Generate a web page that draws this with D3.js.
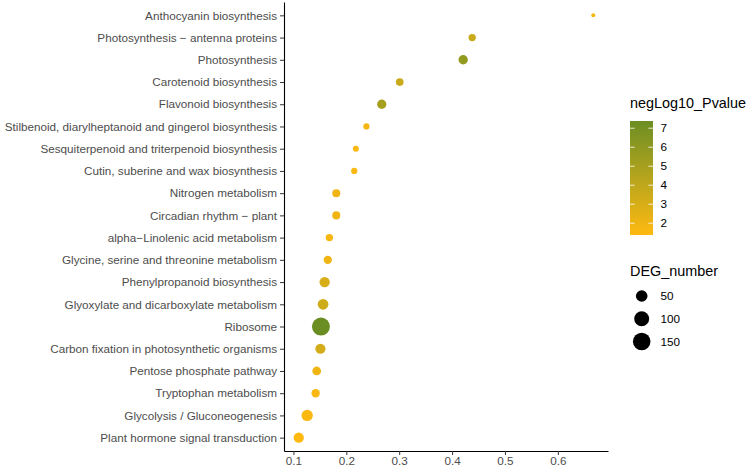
<!DOCTYPE html>
<html>
<head>
<meta charset="utf-8">
<script src="https://cdn.jsdelivr.net/npm/d3@7"></script>
<style>
  body { margin: 0; background: #fff; }
  svg { display: block; font-family: "Liberation Sans", Arial, sans-serif; }
</style>
</head>
<body>
<div id="chart"></div>
<script>
// KEGG enrichment bubble chart, pathways listed bottom -> top
var pathways = [
  "Plant hormone signal transduction",
  "Glycolysis / Gluconeogenesis",
  "Tryptophan metabolism",
  "Pentose phosphate pathway",
  "Carbon fixation in photosynthetic organisms",
  "Ribosome",
  "Glyoxylate and dicarboxylate metabolism",
  "Phenylpropanoid biosynthesis",
  "Glycine, serine and threonine metabolism",
  "alpha\u2212Linolenic acid metabolism",
  "Circadian rhythm \u2212 plant",
  "Nitrogen metabolism",
  "Cutin, suberine and wax biosynthesis",
  "Sesquiterpenoid and triterpenoid biosynthesis",
  "Stilbenoid, diarylheptanoid and gingerol biosynthesis",
  "Flavonoid biosynthesis",
  "Carotenoid biosynthesis",
  "Photosynthesis",
  "Photosynthesis \u2212 antenna proteins",
  "Anthocyanin biosynthesis"
];
var richFactor = [0.110, 0.126, 0.142, 0.144, 0.151, 0.152, 0.156, 0.159, 0.165, 0.168,
                  0.181, 0.181, 0.215, 0.218, 0.238, 0.267, 0.301, 0.421, 0.438, 0.667];
var degNumber  = [35, 46, 19, 22, 35, 160, 40, 36, 19, 13,
                  17, 17, 8, 7, 8, 26, 15, 27, 13, 4];
var negLog10P  = [1.38, 1.6, 1.6, 2.0, 3.2, 7.38, 3.4, 3.0, 2.0, 1.7,
                  2.0, 2.0, 1.6, 1.6, 1.8, 5.0, 3.6, 5.8, 3.6, 1.7];
var colorTicks = [2, 3, 4, 5, 6, 7];
var sizeBreaks = [50, 100, 150];
var xTicks = [0.1, 0.2, 0.3, 0.4, 0.5, 0.6];

var W = 748, H = 469;
var margin = {top: 2, right: 140, bottom: 18, left: 284};

var svg = d3.select("#chart").append("svg")
  .attr("width", W).attr("height", H);

// x scale, ggplot-like 5% expansion
var xr = d3.extent(richFactor);
var xpad = (xr[1] - xr[0]) * 0.05;
var x = d3.scaleLinear()
  .domain([xr[0] - xpad, xr[1] + xpad])
  .range([margin.left, W - margin.right]);

var y = d3.scalePoint()
  .domain(pathways.slice().reverse())
  .range([margin.top, H - margin.bottom])
  .padding(0.6);

var color = d3.scaleLinear()
  .domain(d3.extent(negLog10P))
  .range(["#FFB90F", "#6B8E23"])
  .interpolate(d3.interpolateLab);

// size: area-proportional between data min and max
var sizeT = d3.scaleLinear().domain(d3.extent(degNumber)).range([0, 1]);
var radius = d3.scaleSqrt().domain([0, 1]).range([2, 9]);

// points
var data = pathways.map(function(p, i) {
  return {name: p, x: richFactor[i], deg: degNumber[i], p: negLog10P[i]};
});
svg.append("g").selectAll("circle")
  .data(data)
  .enter().append("circle")
  .attr("cx", function(d) { return x(d.x); })
  .attr("cy", function(d) { return y(d.name); })
  .attr("r", function(d) { return radius(sizeT(d.deg)); })
  .attr("fill", function(d) { return color(d.p); });

// axes
var xAxis = svg.append("g")
  .attr("transform", "translate(0," + (H - margin.bottom) + ")")
  .call(d3.axisBottom(x).tickValues(xTicks).tickFormat(d3.format(".1f"))
    .tickSize(4).tickSizeOuter(0).tickPadding(2));
var yAxis = svg.append("g")
  .attr("transform", "translate(" + margin.left + ",0)")
  .call(d3.axisLeft(y).tickSize(4).tickSizeOuter(0).tickPadding(3));

[xAxis, yAxis].forEach(function(a) {
  a.select(".domain").attr("stroke", "#000").attr("stroke-width", 1.1);
  a.selectAll(".tick line").attr("stroke", "#333").attr("stroke-width", 1);
  a.selectAll(".tick text").attr("fill", "#4D4D4D")
    .style("font-size", "11.7px").style("font-family", "'Liberation Sans', Arial, sans-serif");
});

// colour legend
var lg = svg.append("g").attr("transform", "translate(630,0)");
lg.append("text").attr("x", 0).attr("y", 108)
  .style("font-size", "14.4px").attr("fill", "#000").text("negLog10_Pvalue");

var barTop = 121, barH = 114, barW = 23;
var cbar = d3.scaleLinear().domain(color.domain()).range([barTop + barH, barTop]);
var grad = svg.append("defs").append("linearGradient")
  .attr("id", "cgrad").attr("x1", 0).attr("y1", 1).attr("x2", 0).attr("y2", 0);
d3.range(0, 1.0001, 0.1).forEach(function(t) {
  var v = color.domain()[0] + t * (color.domain()[1] - color.domain()[0]);
  grad.append("stop").attr("offset", t).attr("stop-color", color(v));
});
lg.append("rect").attr("x", 0).attr("y", barTop).attr("width", barW).attr("height", barH)
  .attr("fill", "url(#cgrad)");
colorTicks.forEach(function(v) {
  var yy = cbar(v);
  lg.append("line").attr("x1", 0).attr("x2", barW * 0.2).attr("y1", yy).attr("y2", yy)
    .attr("stroke", "#fff").attr("stroke-width", 0.8);
  lg.append("line").attr("x1", barW * 0.8).attr("x2", barW).attr("y1", yy).attr("y2", yy)
    .attr("stroke", "#fff").attr("stroke-width", 0.8);
  lg.append("text").attr("x", 30.5).attr("y", yy).attr("dy", "0.36em")
    .style("font-size", "11.7px").attr("fill", "#000").text(v);
});

// size legend
lg.append("text").attr("x", 0).attr("y", 276)
  .style("font-size", "14.4px").attr("fill", "#000").text("DEG_number");
var keyY = d3.scaleLinear().domain([0, 2]).range([296, 341.5]);
sizeBreaks.forEach(function(v, i) {
  lg.append("circle").attr("cx", 11.7).attr("cy", keyY(i))
    .attr("r", radius(sizeT(v))).attr("fill", "#000");
  lg.append("text").attr("x", 30.5).attr("y", keyY(i)).attr("dy", "0.36em")
    .style("font-size", "11.7px").attr("fill", "#000").text(v);
});
</script>
</body>
</html>
